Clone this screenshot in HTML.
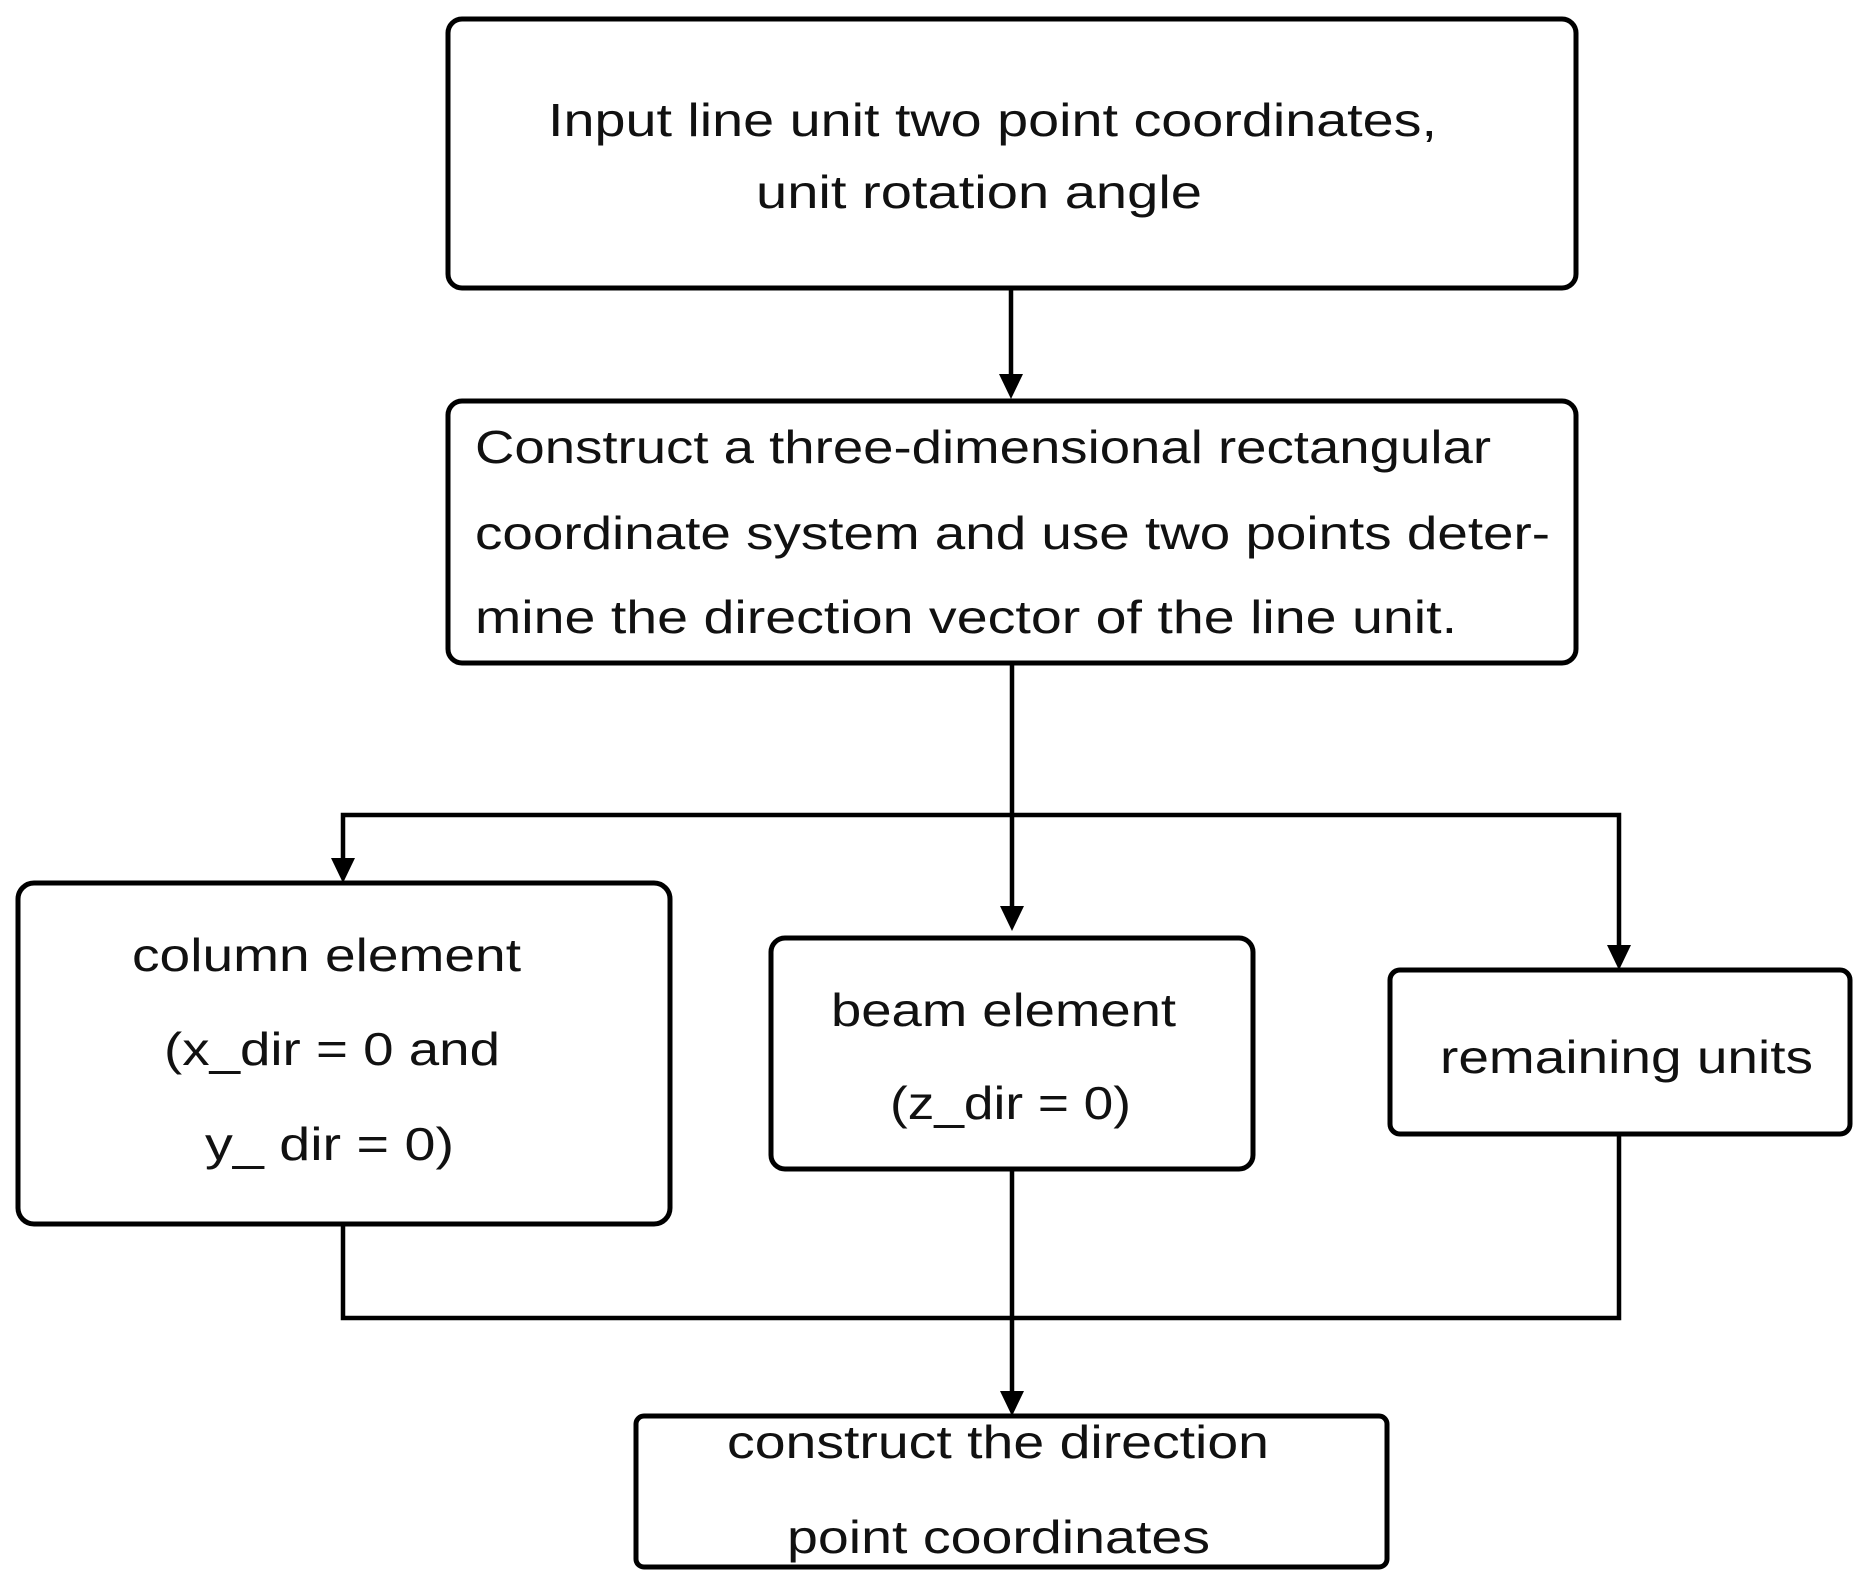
<!DOCTYPE html>
<html><head><meta charset="utf-8"><style>html,body{margin:0;padding:0;background:#fff}svg{display:block}</style></head><body>
<svg width="1869" height="1580" viewBox="0 0 1869 1580" xmlns="http://www.w3.org/2000/svg">
<g fill="none" stroke="#000" stroke-width="5">
<rect x="448" y="19" width="1128" height="269" rx="14"/>
<rect x="448" y="401" width="1128" height="262" rx="14"/>
<rect x="18" y="883" width="652" height="341" rx="16"/>
<rect x="771" y="938" width="482" height="231" rx="14"/>
<rect x="1390" y="970" width="460" height="164" rx="10"/>
<rect x="636" y="1416" width="751" height="151" rx="8"/>
</g>
<g fill="none" stroke="#000" stroke-width="4.5">
<line x1="1011" y1="288" x2="1011" y2="380"/>
<line x1="1012" y1="663" x2="1012" y2="912"/>
<polyline points="343,862 343,815 1619,815 1619,950"/>
<polyline points="343,1224 343,1318 1619,1318 1619,1134"/>
<line x1="1012" y1="1169" x2="1012" y2="1396"/>
</g>
<g fill="#000">
<polygon points="999,374 1023,374 1011,399"/>
<polygon points="1000,906 1024,906 1012,931"/>
<polygon points="331,858 355,858 343,883"/>
<polygon points="1607,945 1631,945 1619,970"/>
<polygon points="1000,1391 1024,1391 1012,1416"/>
</g>
<g font-family="Liberation Sans, sans-serif" font-size="46" fill="#111">
<text x="548" y="136" textLength="889" lengthAdjust="spacingAndGlyphs">Input line unit two point coordinates,</text>
<text x="756" y="208" textLength="446" lengthAdjust="spacingAndGlyphs">unit rotation angle</text>
<text x="475" y="463" textLength="1016" lengthAdjust="spacingAndGlyphs">Construct a three-dimensional rectangular</text>
<text x="475" y="549" textLength="1075" lengthAdjust="spacingAndGlyphs">coordinate system and use two points deter-</text>
<text x="475" y="633" textLength="982" lengthAdjust="spacingAndGlyphs">mine the direction vector of the line unit.</text>
<text x="132" y="971" textLength="389" lengthAdjust="spacingAndGlyphs">column element</text>
<text x="164" y="1065" textLength="336" lengthAdjust="spacingAndGlyphs">(x_dir = 0 and</text>
<text x="205" y="1160" textLength="249" lengthAdjust="spacingAndGlyphs">y_ dir = 0)</text>
<text x="831" y="1026" textLength="345" lengthAdjust="spacingAndGlyphs">beam element</text>
<text x="890" y="1119" textLength="241" lengthAdjust="spacingAndGlyphs">(z_dir = 0)</text>
<text x="1440" y="1073" textLength="373" lengthAdjust="spacingAndGlyphs">remaining units</text>
<text x="727" y="1458" textLength="542" lengthAdjust="spacingAndGlyphs">construct the direction</text>
<text x="787" y="1553" textLength="423" lengthAdjust="spacingAndGlyphs">point coordinates</text>
</g>
</svg>
</body></html>
